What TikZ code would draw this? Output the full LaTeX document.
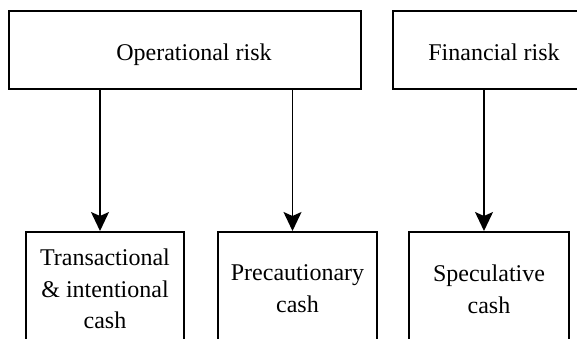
\documentclass[tikz,border=0pt]{standalone}
\usepackage{fontspec}
\setmainfont{Liberation Serif}
\usetikzlibrary{arrows.meta}

\begin{document}
\begin{tikzpicture}
[x=1pt, y=-1pt,
every node/.style={draw,line width=2pt,inner sep=0pt,align=center,
  font=\fontsize{24}{31.7}\selectfont},
riskbox/.style={minimum height=78pt,text height=25pt,text depth=4pt},
cashbox/.style={minimum height=114pt},
arr/.style={line width=1.5pt,-{Stealth[length=19pt,width=18pt,inset=4pt]}},
]
\useasboundingbox (0,0) rectangle (577,339);

\node[riskbox,minimum width=352pt] (op) at (185,50) {\hspace*{18pt}Operational risk};
\node[riskbox,minimum width=202pt] (fin) at (494,50) {Financial risk};

\node[cashbox,minimum width=158pt] (tr) at (105,289) {Transactional\\\& intentional\\cash};
\node[cashbox,minimum width=159pt] (pre) at (297.5,289) {Precautionary\\cash};
\node[cashbox,minimum width=160pt] (spec) at (489,289) {Speculative\\cash};

\draw[arr] ([xshift=-5pt]tr.north |- op.south) -- ([xshift=-5pt]tr.north);
\draw[arr] ([xshift=-5pt]pre.north |- op.south) -- ([xshift=-5pt]pre.north);
\draw[arr] ([xshift=-5pt]spec.north |- fin.south) -- ([xshift=-5pt]spec.north);
\end{tikzpicture}
\end{document}
